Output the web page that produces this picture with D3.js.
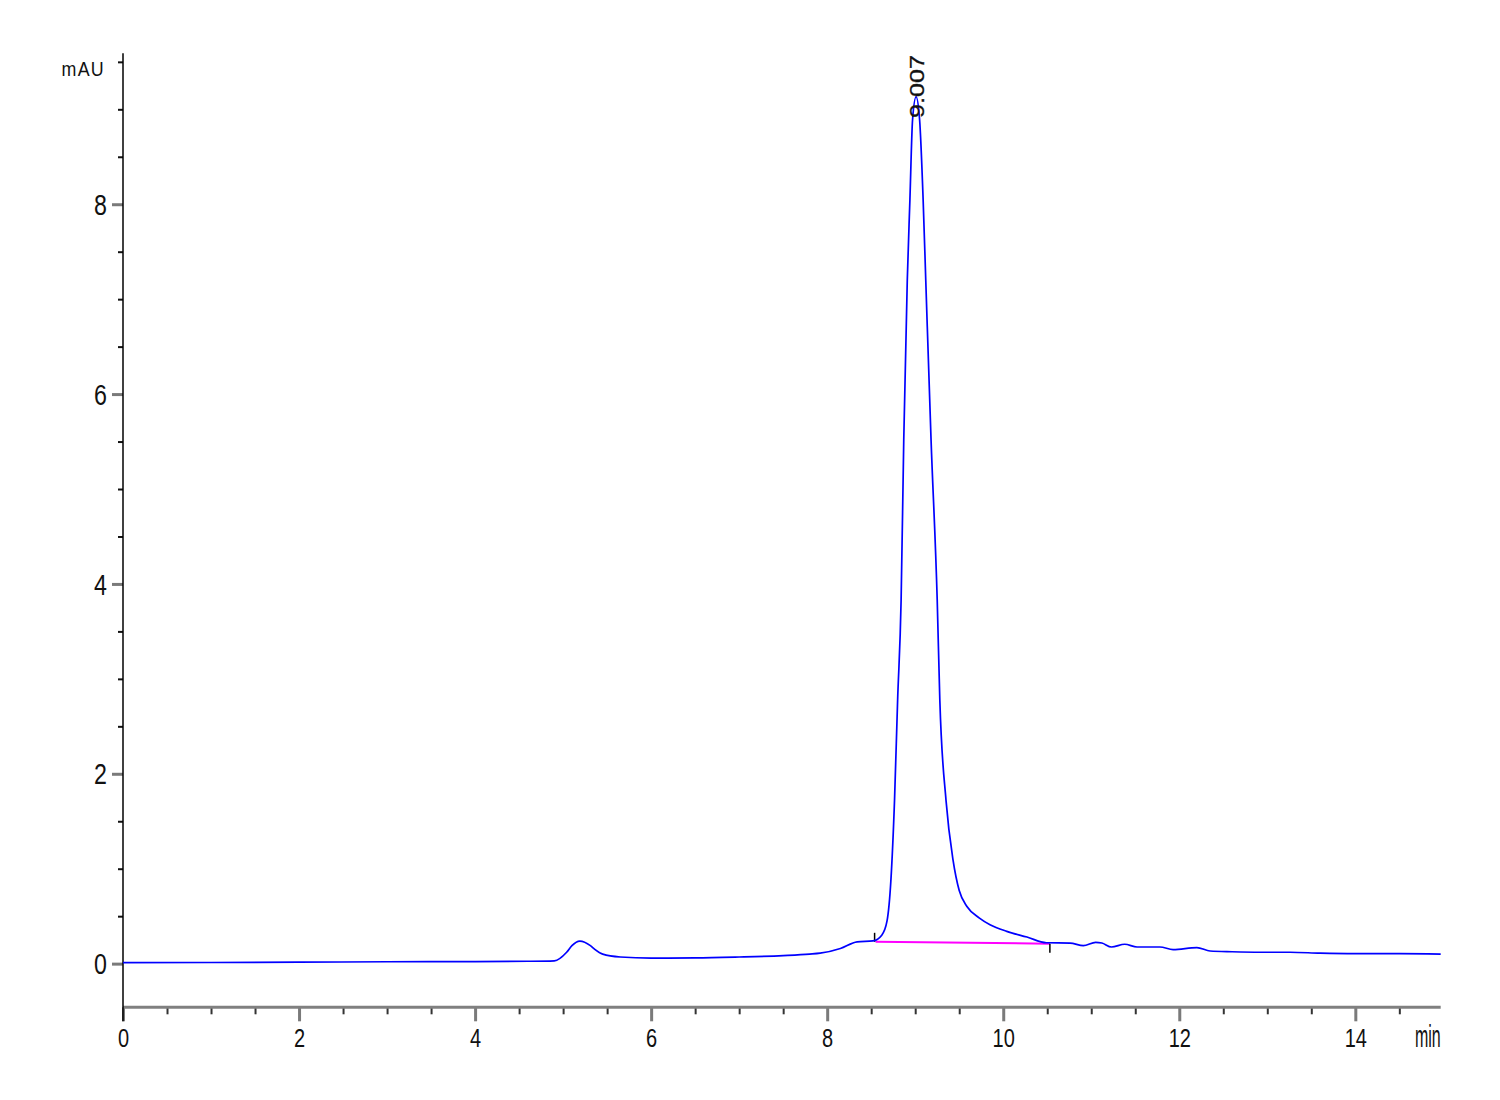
<!DOCTYPE html>
<html>
<head>
<meta charset="utf-8">
<script src="https://cdn.jsdelivr.net/npm/d3@7"></script>
<style>
  body { margin: 0; background: #fff; }
  svg { display: block; }
</style>
</head>
<body>
<div id="chart"></div>
<script>
var width = 1500, height = 1100;

// chromatogram trace (min, mAU)
var times = [0, 1, 2, 3, 4, 4.6, 4.9, 5.04, 5.1, 5.19, 5.31, 5.36, 5.45, 5.65, 6.0, 6.5, 7.0, 7.5, 7.8,
  7.92, 8.15, 8.34, 8.52, 8.62, 8.68, 8.724, 8.765, 8.80, 8.84, 8.87, 8.91, 8.94, 8.97, 9.01, 9.05,
  9.09, 9.12, 9.18, 9.25, 9.28, 9.35, 9.43, 9.50, 9.59, 9.73, 9.85, 10.04, 10.27, 10.49, 10.76, 10.91,
  11.05, 11.12, 11.23, 11.38, 11.52, 11.78, 11.93, 12.2, 12.35, 12.6, 12.92, 13.26, 13.6, 14.0, 14.5, 14.97];
var signal = [0.01, 0.012, 0.015, 0.02, 0.022, 0.025, 0.03, 0.12, 0.19, 0.238, 0.19, 0.15, 0.10, 0.07, 0.058, 0.06, 0.07, 0.085, 0.10,
  0.11, 0.16, 0.23, 0.24, 0.30, 0.45, 0.88, 1.72, 2.77, 3.83, 5.52, 7.20, 8.05, 8.89, 9.13, 8.89,
  8.05, 7.20, 5.52, 3.83, 2.77, 1.72, 1.09, 0.77, 0.60, 0.48, 0.41, 0.34, 0.28, 0.22, 0.217, 0.19,
  0.225, 0.217, 0.175, 0.204, 0.175, 0.175, 0.148, 0.169, 0.133, 0.125, 0.12, 0.12, 0.11, 0.105, 0.105, 0.10];

// integration baseline of the main peak
var baseTimes = [8.55, 10.53];
var baseValues = [0.23, 0.21];

var peakTime = 9.007, peakHeight = 9.13;
var peakLabel = "9.007";

var xMajor = [0, 2, 4, 6, 8, 10, 12, 14];
var xMinor = d3.range(0.5, 15, 0.5).filter(function(d) { return d % 2 !== 0; });
var yMajor = [0, 2, 4, 6, 8];
var yMinor = d3.range(0.5, 9.6, 0.5).filter(function(d) { return d % 2 !== 0; });

var x = d3.scaleLinear().domain([0, 14.97]).range([123, 1440.7]);
var y = d3.scaleLinear().domain([-0.46, 9.59]).range([1007.3, 53.3]);

var font = "'Liberation Sans', Arial, sans-serif";

var svg = d3.select("#chart").append("svg")
  .attr("width", width)
  .attr("height", height);

// y axis: minor ticks, then labelled ticks
var yMinorAxis = svg.append("g")
  .attr("transform", "translate(" + x(0) + ",0)")
  .call(d3.axisLeft(y).tickValues(yMinor).tickSize(5).tickFormat(""));
yMinorAxis.selectAll(".tick line").attr("stroke", "#111").attr("stroke-width", 2);

var yMajorAxis = svg.append("g")
  .attr("transform", "translate(" + x(0) + ",0)")
  .call(d3.axisLeft(y).tickValues(yMajor).tickSize(11).tickPadding(5).tickFormat(d3.format("d")));
yMajorAxis.selectAll(".tick line").attr("stroke", "#7a7a7a").attr("stroke-width", 3);
yMajorAxis.selectAll(".tick text")
  .attr("font-family", font).attr("font-size", 29).attr("fill", "#111")
  .attr("x", -16 / 0.8).attr("dy", "0.35em")
  .attr("transform", "scale(0.8,1)");

svg.selectAll(".domain").remove();

// x axis
var xMinorAxis = svg.append("g")
  .attr("transform", "translate(0," + y(-0.46) + ")")
  .call(d3.axisBottom(x).tickValues(xMinor).tickSize(7).tickFormat(""));
xMinorAxis.selectAll(".tick line").attr("stroke", "#333").attr("stroke-width", 2);

var xMajorAxis = svg.append("g")
  .attr("transform", "translate(0," + y(-0.46) + ")")
  .call(d3.axisBottom(x).tickValues(xMajor).tickSize(14).tickPadding(8).tickFormat(d3.format("d")));
xMajorAxis.selectAll(".tick line").attr("stroke", "#7a7a7a").attr("stroke-width", 3);
xMajorAxis.selectAll(".tick text")
  .attr("font-family", font).attr("font-size", 25).attr("fill", "#111")
  .attr("transform", "scale(0.8,1)");

svg.selectAll(".domain").remove();

svg.append("line")
  .attr("x1", x(0)).attr("x2", x(14.97))
  .attr("y1", y(-0.46)).attr("y2", y(-0.46))
  .attr("stroke", "#808080").attr("stroke-width", 3);

svg.append("line")
  .attr("x1", x(0)).attr("x2", x(0))
  .attr("y1", y(9.59)).attr("y2", y(-0.46) + 14)
  .attr("stroke", "#000").attr("stroke-width", 1.5);

// unit labels
svg.append("text")
  .attr("transform", "translate(" + (x(0) - 18) + "," + (y(9.59) + 23) + ") scale(0.85,1)")
  .attr("text-anchor", "end")
  .attr("font-family", font).attr("font-size", 21).attr("fill", "#111")
  .attr("letter-spacing", 1.5)
  .text("mAU");

svg.append("text")
  .attr("transform", "translate(" + x(14.97) + "," + (y(-0.46) + 40) + ") scale(0.5,1)")
  .attr("text-anchor", "end")
  .attr("font-family", font).attr("font-size", 32).attr("fill", "#111")
  .text("min");

// baseline of peak
var baseData = baseTimes.map(function(t, i) { return [t, baseValues[i]]; });
svg.append("path")
  .datum(baseData)
  .attr("fill", "none")
  .attr("stroke", "#ff00ff")
  .attr("stroke-width", 2)
  .attr("d", d3.line().x(function(d) { return x(d[0]); }).y(function(d) { return y(d[1]); }));

// start / end markers
svg.append("line")
  .attr("x1", x(baseTimes[0]) - 1).attr("x2", x(baseTimes[0]) - 1)
  .attr("y1", y(baseValues[0])).attr("y2", y(baseValues[0]) - 9)
  .attr("stroke", "#000").attr("stroke-width", 1.5);
svg.append("line")
  .attr("x1", x(baseTimes[1])).attr("x2", x(baseTimes[1]))
  .attr("y1", y(baseValues[1])).attr("y2", y(baseValues[1]) + 9)
  .attr("stroke", "#000").attr("stroke-width", 1.5);

// trace
var trace = times.map(function(t, i) { return [t, signal[i]]; });
svg.append("path")
  .datum(trace)
  .attr("fill", "none")
  .attr("stroke", "#0000ff")
  .attr("stroke-width", 1.7)
  .attr("d", d3.line()
    .curve(d3.curveMonotoneX)
    .x(function(d) { return x(d[0]); })
    .y(function(d) { return y(d[1]); }));

// retention time label
svg.append("text")
  .attr("transform", "translate(" + (x(peakTime) + 8) + "," + (y(peakHeight) + 21) + ") rotate(-90) scale(1.2,1)")
  .attr("font-family", font)
  .attr("font-size", 21)
  .attr("fill", "#111")
  .attr("stroke", "#111").attr("stroke-width", 0.3)
  .text(peakLabel);
</script>
</body>
</html>
